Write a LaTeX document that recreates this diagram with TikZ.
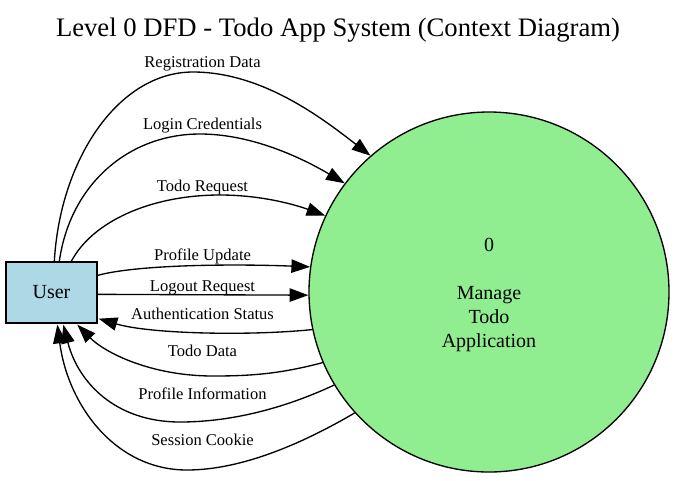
\documentclass[tikz,border=0pt]{standalone}
\usepackage{fontspec}
\setmainfont{Liberation Serif}
\newfontfamily\diagramfont{Liberation Serif}
\usetikzlibrary{arrows.meta,calc}

\definecolor{entityblue}{RGB}{173,216,230}
\definecolor{processgreen}{RGB}{144,238,144}

\begin{document}
\begin{tikzpicture}[x=0.75pt,y=-0.75pt,
  entity/.style={draw=black,line width=1pt,fill=entityblue,rectangle,
    minimum width=68.25pt,minimum height=45.75pt,inner sep=0pt,
    font=\diagramfont\fontsize{15}{18}\selectfont},
  process/.style={draw=black,line width=1pt,fill=processgreen,circle,
    minimum size=270pt,inner sep=0pt,align=center,
    font=\diagramfont\fontsize{15}{18}\selectfont},
  flow/.style={draw=black,line width=1pt,
    -{Triangle[length=14pt,width=10pt]}},
  lbl/.style={inner sep=0pt,font=\diagramfont\fontsize{12.4}{14}\selectfont},
  heading/.style={inner sep=0pt,font=\diagramfont\fontsize{20}{24}\selectfont}]

\useasboundingbox (0,0) rectangle (675,480);

% title
\node[heading] (title) at (338,30) {Level 0 DFD - Todo App System (Context Diagram)};

% external entity and the single process
\node[entity] (user) at (51.5,292.5) {User};
\node[process] (proc) at (489,292) {};
\node[font=\diagramfont\fontsize{15}{18}\selectfont,align=center,inner sep=0pt]
  (proctext) at ($(proc.center)+(0,2.5)$) {0\\[18pt]Manage\\Todo\\Application};

% flows from the user into the process
\draw[flow] ($(user.north west)+(49,0)$) .. controls (60,160) and (118,72) .. (193,72)
  .. controls (262,72) and (322,118) .. (proc.131);
\draw[flow] ($(user.north west)+(54,0)$) .. controls (70,185) and (128,134) .. (200,134)
  .. controls (252,134) and (302,158) .. (proc.143);
\draw[flow] ($(user.north west)+(66,0)$) .. controls (92,222) and (150,195) .. (220,195)
  .. controls (262,195) and (296,205) .. (proc.155);
\draw[flow] ($(user.north east)+(0,14)$) .. controls (140,264) and (240,264) .. (proc.172);
\draw[flow] ($(user.north east)+(0,33)$) -- (proc.181);

% flows from the process back to the user
\draw[flow] (proc.192) .. controls (250,336) and (150,334) .. ($(user.south east)+(1,-5)$);
\draw[flow] (proc.203) .. controls (280,374) and (250,376) .. (213,376)
  .. controls (150,376) and (104,352) .. ($(user.south west)+(72,1)$);
\draw[flow] (proc.211) .. controls (285,408) and (232,422) .. (180,422)
  .. controls (115,422) and (78,382) .. ($(user.south west)+(58,1)$);
\draw[flow] (proc.222) .. controls (300,445) and (240,470) .. (187,470)
  .. controls (115,470) and (68,405) .. ($(user.south west)+(52,1)$);

% flow labels
\node[lbl] (lreg)  at (202.5,64)  {Registration Data};
\node[lbl] (llog)  at (202.5,126) {Login Credentials};
\node[lbl] (ltreq) at (202.5,188) {Todo Request};
\node[lbl] (lpup)  at (202.5,256) {Profile Update};
\node[lbl] (lout)  at (202.5,288) {Logout Request};
\node[lbl] (lauth) at (202.5,314) {Authentication Status};
\node[lbl] (ltdat) at (202.5,351) {Todo Data};
\node[lbl] (lpinf) at (202.5,394) {Profile Information};
\node[lbl] (lsess) at (202.5,440) {Session Cookie};
\end{tikzpicture}
\end{document}
